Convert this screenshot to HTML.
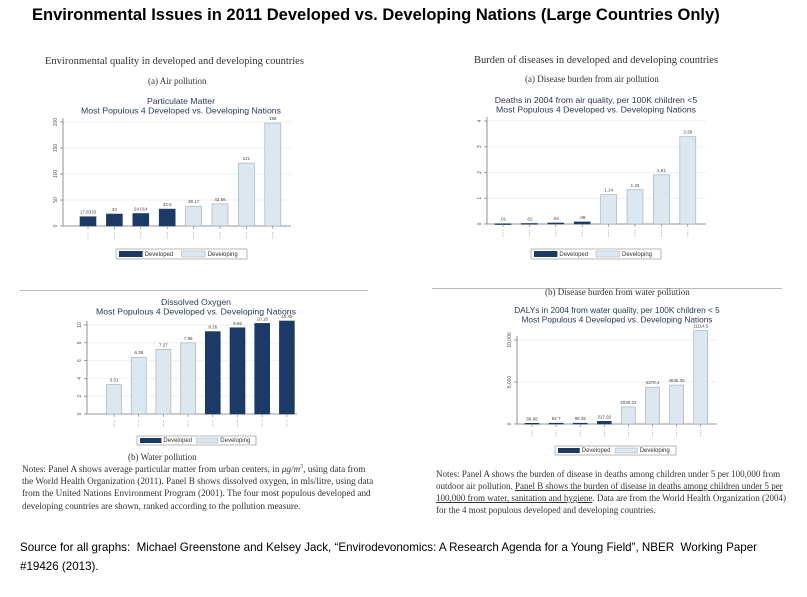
<!DOCTYPE html>
<html><head><meta charset="utf-8">
<style>
body{margin:0;background:#fff;}
#root{position:relative;width:807px;height:597px;overflow:hidden;font-family:"Liberation Serif",serif;color:#333;}
.t{position:absolute;white-space:nowrap;}
</style></head>
<body>
<div id="root">
<div class="t" style="left:32px;top:6px;font:bold 16.5px 'Liberation Sans',sans-serif;color:#000;">Environmental Issues in 2011 Developed vs. Developing Nations (Large Countries Only)</div>

<div class="t" style="left:45px;top:56px;font-size:10.5px;">Environmental quality in developed and developing countries</div>
<div class="t" style="left:148px;top:76px;font-size:9px;">(a) Air pollution</div>
<div class="t" style="left:474px;top:55px;font-size:10.5px;">Burden of diseases in developed and developing countries</div>
<div class="t" style="left:525px;top:74px;font-size:9px;">(a) Disease burden from air pollution</div>

<div style="position:absolute;left:20px;top:290px;width:348px;height:1px;background:#bbb;"></div>
<div style="position:absolute;left:432px;top:288px;width:350px;height:1px;background:#bbb;"></div>
<div class="t" style="left:545px;top:287px;font-size:9px;">(b) Disease burden from water pollution</div>
<div class="t" style="left:128px;top:452px;font-size:9px;">(b) Water pollution</div>

<div class="t" style="left:22px;top:461px;font-size:9.2px;line-height:12.2px;">Notes: Panel A shows average particular matter from urban centers, in <i>μg/m</i><sup style="font-size:6px">3</sup>, using data from<br>the World Health Organization (2011). Panel B shows dissolved oxygen, in mls/litre, using data<br>from the United Nations Environment Program (2001). The four most populous developed and<br>developing countries are shown, ranked according to the pollution measure.</div>
<div class="t" style="left:436px;top:468px;font-size:9px;line-height:12px;">Notes: Panel A shows the burden of disease in deaths among children under 5 per 100,000 from<br>outdoor air pollution. <u>Panel B shows the burden of disease in deaths among children under 5 per</u><br><u>100,000 from water, sanitation and hygiene</u>. Data are from the World Health Organization (2004)<br>for the 4 most populous developed and developing countries.</div>

<div class="t" style="left:20px;top:538px;font:11.6px 'Liberation Sans',sans-serif;color:#000;line-height:19px;">Source for all graphs:&nbsp; Michael Greenstone and Kelsey Jack, “Envirodevonomics: A Research Agenda for a Young Field”, NBER&nbsp; Working Paper<br>#19426 (2013).</div>

<svg id="chart" width="807" height="597" style="position:absolute;left:0;top:0;"></svg>
</div>
<script>
// Panel A: particulate matter
const pmValues = [17.8333, 23, 24.014, 32.5, 38.17, 42.56, 121, 198];
const pmLabels = ["17.8333","23","24.014","32.5","38.17","42.56","121","198"];
const pmDeveloped = [1,1,1,1,0,0,0,0];
const pmTicks = [0,50,100,150,200];
// Panel B: dissolved oxygen
const doValues = [3.31, 6.38, 7.27, 7.99, 9.26, 9.69, 10.18, 10.45];
const doLabels = ["3.31","6.38","7.27","7.99","9.26","9.69","10.18","10.45"];
const doDeveloped = [0,0,0,0,1,1,1,1];
const doTicks = [0,2,4,6,8,10];
// Deaths from air
const airValues = [0.01, 0.02, 0.04, 0.08, 1.14, 1.33, 1.91, 3.39];
const airLabels = [".01",".02",".04",".08","1.14","1.33","1.91","3.39"];
const airDeveloped = [1,1,1,1,0,0,0,0];
const airTicks = [0,1,2,3,4];
// DALYs from water
const waterValues = [86.68, 92.7, 99.35, 317.92, 2030.22, 4378.4, 4636.35, 11114.5];
const waterLabels = ["86.68","92.7","99.35","317.92","2030.22","4378.4","4636.35","11114.5"];
const waterDeveloped = [1,1,1,1,0,0,0,0];
const waterTicks = [0,5000,10000];
const waterTickLabels = ["0","5,000","10,000"];

const NS="http://www.w3.org/2000/svg";
const svg=document.getElementById('chart');
function mk(tag,attrs,parent){const e=document.createElementNS(NS,tag);for(const k in attrs)e.setAttribute(k,attrs[k]);(parent||svg).appendChild(e);return e;}

function drawChart(c, values, labels, dev, ticks, tickLabels){
  const g=mk('g',{});
  
  
  const y=v=>c.y0-(v-0)/(c.ymax)*(c.y0-c.ytop);
  const n=values.length;
  const xc=i=>c.x0+i*c.step;
  c.titles.forEach((t,i)=>{const tx=mk('text',{x:c.tcx,y:c.ty+i*9.5,'text-anchor':'middle','font-size':c.tfs||8.7,'font-family':'Liberation Sans, sans-serif',fill:'#2a3a5a'},g);tx.textContent=t;
    
    });
  ticks.forEach((t,i)=>{
    const yy=y(t);
    const gl=mk('line',{x1:c.ax,x2:c.right,y1:yy,y2:yy,stroke:'#eef0f2','stroke-width':1},g);
    
    
    mk('line',{x1:c.ax-3,x2:c.ax,y1:yy,y2:yy,stroke:'#777','stroke-width':0.7},g);
    const tl=mk('text',{x:c.ax-6,y:yy,'font-size':5,'text-anchor':'middle','font-family':'Liberation Sans, sans-serif',fill:'#555',transform:`rotate(-90 ${c.ax-6} ${yy})`},g);
    tl.textContent=tickLabels?tickLabels[i]:String(t);
    
    
  });
  mk('line',{x1:c.ax,x2:c.ax,y1:c.ytop-4,y2:c.y0,stroke:'#777','stroke-width':0.8},g);
  mk('line',{x1:c.ax,x2:c.right,y1:c.y0,y2:c.y0,stroke:'#777','stroke-width':0.8},g);
  for(let i=0;i<n;i++){
    const yy=y(values[i]);
    const r=mk('rect',{x:xc(i)-c.bw/2,y:yy,width:c.bw,height:Math.max(c.y0-yy,0.8),fill:dev[i]?'#1b3b66':'#dde7ef',stroke:dev[i]?'#1b3b66':'#9aabb8','stroke-width':0.6},g);
    
    
    const vl=mk('text',{x:xc(i),y:yy-3,'text-anchor':'middle','font-size':4.5,'font-family':'Liberation Sans, sans-serif',fill:'#444'},g);
    vl.textContent=labels[i];
    
    
    mk('line',{x1:xc(i),x2:xc(i),y1:c.y0,y2:c.y0+3,stroke:'#777','stroke-width':0.6},g);
    mk('line',{x1:xc(i),x2:xc(i),y1:c.y0+6,y2:c.y0+14,stroke:'#aaa','stroke-width':0.8,'stroke-dasharray':'1 1'},g);
  }
  const L=c.leg;
  const lg=mk('g',{},g);
  
  
  mk('rect',{x:L.x,y:L.y,width:L.w,height:L.h,fill:'#fff',stroke:'#999','stroke-width':0.7},lg);
  mk('rect',{x:L.x+3,y:L.y+2,width:L.w*0.18,height:L.h-4,fill:'#1b3b66'},lg);
  const t1=mk('text',{x:L.x+5+L.w*0.18,y:L.y+L.h-3,'font-size':6,'font-family':'Liberation Sans, sans-serif',fill:'#333'},lg);t1.textContent='Developed';
  mk('rect',{x:L.x+L.w*0.5,y:L.y+2,width:L.w*0.18,height:L.h-4,fill:'#dde7ef',stroke:'#9aabb8','stroke-width':0.5},lg);
  const t2=mk('text',{x:L.x+L.w*0.7,y:L.y+L.h-3,'font-size':6,'font-family':'Liberation Sans, sans-serif',fill:'#333'},lg);t2.textContent='Developing';
}

drawChart({name:'particulate-matter-chart',ax:63,right:291,y0:226,ytop:122,ymax:200,x0:88,step:26.4,bw:16,tcx:181,ty:104,titles:['Particulate Matter','Most Populous 4 Developed vs. Developing Nations'],leg:{x:116,y:249,w:131,h:10}},pmValues,pmLabels,pmDeveloped,pmTicks);
drawChart({name:'air-deaths-chart',ax:487,right:706,y0:224,ytop:121,ymax:4,x0:503,step:26.4,bw:16,tcx:596,ty:103,titles:['Deaths in 2004 from air quality, per 100K children <5','Most Populous 4 Developed vs. Developing Nations'],leg:{x:531,y:249,w:130,h:10}},airValues,airLabels,airDeveloped,airTicks);
drawChart({name:'dissolved-oxygen-chart',ax:87,right:297,y0:414,ytop:325,ymax:10,x0:114,step:24.7,bw:15,tcx:196,ty:305,titles:['Dissolved Oxygen','Most Populous 4 Developed vs. Developing Nations'],leg:{x:137,y:436,w:119,h:9}},doValues,doLabels,doDeveloped,doTicks);
drawChart({name:'water-dalys-chart',ax:517,right:717,y0:424,ytop:340,ymax:10000,x0:532,step:24.1,bw:14,tcx:617,ty:313,tfs:8.3,titles:['DALYs in 2004 from water quality, per 100K children < 5','Most Populous 4 Developed vs. Developing Nations'],leg:{x:555,y:446,w:121,h:9}},waterValues,waterLabels,waterDeveloped,waterTicks,waterTickLabels);
</script>
</body></html>
